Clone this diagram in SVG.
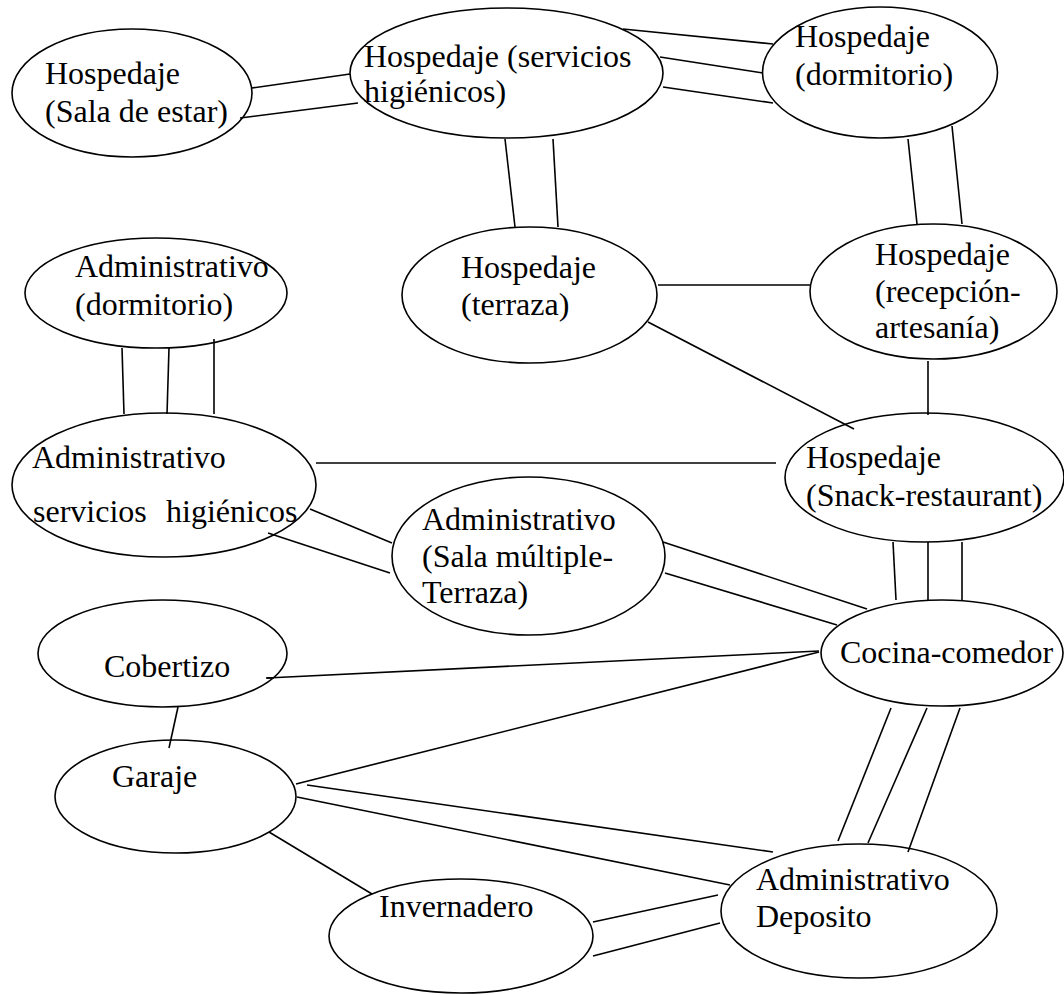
<svg xmlns="http://www.w3.org/2000/svg" width="1064" height="995" viewBox="0 0 1064 995">
  <style>
    .node ellipse { fill: #fff; stroke: #000; stroke-width: 1.6; }
    .node text { font-family: "Liberation Serif", "Times New Roman", serif; font-size: 32px; fill: #000; }
    #connectors line { stroke: #000; stroke-width: 1.6; stroke-linecap: butt; }
  </style>
  <rect width="1064" height="995" fill="#fff"/>

  <!-- Hospedaje block -->
  <g id="hosp-sala-estar" class="node">
    <ellipse cx="132" cy="93" rx="120" ry="64"/>
    <text x="45" y="84">Hospedaje</text>
    <text x="45" y="122">(Sala de estar)</text>
  </g>
  <g id="hosp-servicios" class="node">
    <ellipse cx="506.5" cy="73" rx="156.5" ry="65"/>
    <text x="364" y="67">Hospedaje (servicios</text>
    <text x="364" y="102">higiénicos)</text>
  </g>
  <g id="hosp-dormitorio" class="node">
    <ellipse cx="880" cy="72.5" rx="117.5" ry="65.5"/>
    <text x="795" y="47">Hospedaje</text>
    <text x="795" y="85">(dormitorio)</text>
  </g>
  <g id="hosp-terraza" class="node">
    <ellipse cx="529.5" cy="295" rx="127.5" ry="68"/>
    <text x="461" y="278">Hospedaje</text>
    <text x="461" y="315">(terraza)</text>
  </g>
  <g id="hosp-recepcion" class="node">
    <ellipse cx="933.5" cy="291.5" rx="123.5" ry="67.5"/>
    <text x="875" y="265">Hospedaje</text>
    <text x="875" y="302">(recepción-</text>
    <text x="875" y="338">artesanía)</text>
  </g>
  <g id="hosp-snack" class="node">
    <ellipse cx="924.5" cy="477.5" rx="139.5" ry="64.5"/>
    <text x="806" y="468">Hospedaje</text>
    <text x="806" y="506">(Snack-restaurant)</text>
  </g>

  <!-- Administrativo block -->
  <g id="adm-dormitorio" class="node">
    <ellipse cx="156" cy="293" rx="131" ry="55"/>
    <text x="75" y="277">Administrativo</text>
    <text x="75" y="315">(dormitorio)</text>
  </g>
  <g id="adm-servicios" class="node">
    <ellipse cx="164" cy="485" rx="152" ry="72"/>
    <text x="32" y="468">Administrativo</text>
    <text y="522"><tspan x="33">servicios</tspan><tspan x="166">higiénicos</tspan></text>
  </g>
  <g id="adm-sala-multiple" class="node">
    <ellipse cx="528.5" cy="556" rx="136.5" ry="79"/>
    <text x="422" y="530">Administrativo</text>
    <text x="422" y="567">(Sala múltiple-</text>
    <text x="422" y="603">Terraza)</text>
  </g>
  <g id="adm-deposito" class="node">
    <ellipse cx="859" cy="911" rx="138" ry="67"/>
    <text x="756" y="890">Administrativo</text>
    <text x="756" y="927">Deposito</text>
  </g>

  <!-- Service areas -->
  <g id="cocina-comedor" class="node">
    <ellipse cx="942" cy="653" rx="121" ry="53"/>
    <text x="840" y="663">Cocina-comedor</text>
  </g>
  <g id="cobertizo" class="node">
    <ellipse cx="162.5" cy="653.5" rx="124.5" ry="53.5"/>
    <text x="104" y="677">Cobertizo</text>
  </g>
  <g id="garaje" class="node">
    <ellipse cx="175.5" cy="796.5" rx="120.5" ry="56.5"/>
    <text x="112" y="787">Garaje</text>
  </g>
  <g id="invernadero" class="node">
    <ellipse cx="461" cy="936" rx="132" ry="57"/>
    <text x="379" y="917">Invernadero</text>
  </g>

  <!-- Relations: one line per link, parallel lines for stronger links -->
  <g id="connectors">
    <line x1="252" y1="88" x2="350" y2="74"/>
    <line x1="240" y1="118" x2="358" y2="103"/>

    <line x1="623" y1="29" x2="773" y2="44"/>
    <line x1="660" y1="57" x2="763" y2="73"/>
    <line x1="663" y1="87" x2="773" y2="103"/>

    <line x1="505" y1="139" x2="515" y2="227"/>
    <line x1="553" y1="139" x2="558" y2="227"/>

    <line x1="908" y1="139" x2="917" y2="224"/>
    <line x1="952" y1="126" x2="962" y2="224"/>

    <line x1="658" y1="285" x2="810" y2="285"/>
    <line x1="648" y1="322" x2="854" y2="429"/>
    <line x1="928" y1="361" x2="928" y2="415"/>

    <line x1="122" y1="348" x2="124" y2="414"/>
    <line x1="169" y1="348" x2="167" y2="414"/>
    <line x1="214" y1="339" x2="214" y2="414"/>

    <line x1="316" y1="463" x2="776" y2="463"/>
    <line x1="310" y1="509" x2="392" y2="543"/>
    <line x1="268" y1="533" x2="390" y2="573"/>

    <line x1="663" y1="542" x2="867" y2="609"/>
    <line x1="665" y1="573" x2="837" y2="625"/>

    <line x1="893" y1="542" x2="896" y2="600"/>
    <line x1="928" y1="542" x2="928" y2="600"/>
    <line x1="962" y1="542" x2="962" y2="600"/>

    <line x1="266" y1="678" x2="273" y2="678"/>
    <line x1="267" y1="678" x2="819" y2="651"/>
    <line x1="296" y1="784" x2="819" y2="652"/>
    <line x1="178" y1="707" x2="169" y2="748"/>

    <line x1="891" y1="708" x2="838" y2="841"/>
    <line x1="927" y1="708" x2="868" y2="843"/>
    <line x1="960" y1="708" x2="908" y2="852"/>

    <line x1="307" y1="785" x2="773" y2="852"/>
    <line x1="297" y1="797" x2="730" y2="885"/>
    <line x1="269" y1="832" x2="372" y2="894"/>

    <line x1="593" y1="922" x2="718" y2="895"/>
    <line x1="593" y1="956" x2="720" y2="923"/>
  </g>
</svg>
